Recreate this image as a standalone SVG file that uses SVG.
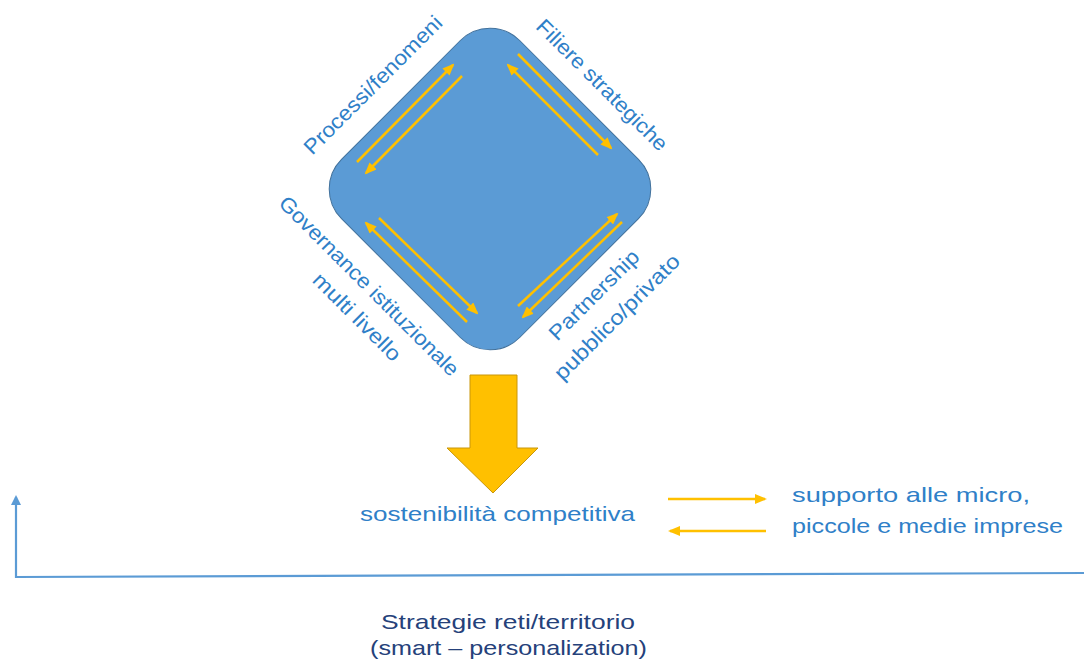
<svg xmlns="http://www.w3.org/2000/svg" width="1084" height="666" viewBox="0 0 1084 666">
<defs>
<style>
.lbl{font-family:"Liberation Sans","Open Sans",sans-serif;font-size:21px;fill:#2F80C8;}
.foot{font-family:"Liberation Sans","Open Sans",sans-serif;font-size:21px;fill:#25417A;}
.ya{stroke:#FFC000;stroke-width:2.5;fill:none;marker-end:url(#yh);}
.ax{stroke:#5B9BD5;stroke-width:2.2;fill:none;}
</style>
<marker id="yh" markerUnits="userSpaceOnUse" markerWidth="12" markerHeight="10" viewBox="0 0 12 10" refX="10" refY="5" orient="auto">
<path d="M0,0 L12,5 L0,10 Z" fill="#FFC000"/>
</marker>
<marker id="bh" markerUnits="userSpaceOnUse" markerWidth="10" markerHeight="10" viewBox="0 0 10 10" refX="8" refY="5" orient="auto">
<path d="M0,0 L10,5 L0,10 Z" fill="#5B9BD5"/>
</marker>
</defs>
<rect width="1084" height="666" fill="#ffffff"/>

<g id="diamond">
<rect x="-126" y="-126" width="252" height="252" rx="42" ry="42" transform="translate(490,189) rotate(45)" fill="#5B9BD5" stroke="#41719C" stroke-width="1"/>
</g>

<g id="connectors">
<line class="ya" x1="357" y1="162" x2="453" y2="65"/>
<line class="ya" x1="462" y1="76" x2="366" y2="173"/>
<line class="ya" x1="598" y1="155" x2="508" y2="65"/>
<line class="ya" x1="518" y1="54" x2="611" y2="148"/>
<line class="ya" x1="467" y1="322" x2="366" y2="223"/>
<line class="ya" x1="379" y1="218" x2="477" y2="313"/>
<line class="ya" x1="518" y1="306" x2="617" y2="214"/>
<line class="ya" x1="622" y1="222" x2="523" y2="317"/>
<line class="ya" x1="668" y1="499" x2="765" y2="499"/>
<line class="ya" x1="766" y1="531" x2="670" y2="531"/>
</g>

<g id="label-processi">
<text class="lbl" text-anchor="middle" textLength="186" lengthAdjust="spacingAndGlyphs" transform="translate(378,90) rotate(-45)">Processi/fenomeni</text>
</g>
<g id="label-filiere">
<text class="lbl" text-anchor="middle" textLength="176" lengthAdjust="spacingAndGlyphs" transform="translate(597,90) rotate(45)">Filiere strategiche</text>
</g>
<g id="label-governance">
<text class="lbl" text-anchor="middle" textLength="245" lengthAdjust="spacingAndGlyphs" transform="translate(364,291) rotate(45)">Governance istituzionale</text>
<text class="lbl" text-anchor="middle" textLength="115" lengthAdjust="spacingAndGlyphs" transform="translate(352,322) rotate(45)">multi livello</text>
</g>
<g id="label-partnership">
<text class="lbl" text-anchor="middle" textLength="118" lengthAdjust="spacingAndGlyphs" transform="translate(599,300) rotate(-45)">Partnership</text>
<text class="lbl" text-anchor="middle" textLength="168" lengthAdjust="spacingAndGlyphs" transform="translate(622,322) rotate(-45)">pubblico/privato</text>
</g>

<g id="big-arrow">
<polygon points="470,375 517,375 517,448 538,448 493,493 447,448 470,448" fill="#FFC000" stroke="#C9960A" stroke-width="1"/>
</g>

<g id="sostenibilita">
<text class="lbl" x="360" y="521" textLength="275" lengthAdjust="spacingAndGlyphs">sostenibilità competitiva</text>
</g>

<g id="supporto">
<text class="lbl" x="792" y="502" textLength="238" lengthAdjust="spacingAndGlyphs">supporto alle micro,</text>
<text class="lbl" x="792" y="533" textLength="271" lengthAdjust="spacingAndGlyphs">piccole e medie imprese</text>
</g>

<g id="axis">
<polyline class="ax" points="16,577 1084,573"/>
<line class="ax" x1="16" y1="578" x2="16" y2="497" marker-end="url(#bh)"/>
</g>

<g id="footer">
<text class="foot" x="381" y="629" textLength="254" lengthAdjust="spacingAndGlyphs">Strategie reti/territorio</text>
<text class="foot" x="370" y="655" textLength="277" lengthAdjust="spacingAndGlyphs">(smart – personalization)</text>
</g>
</svg>
